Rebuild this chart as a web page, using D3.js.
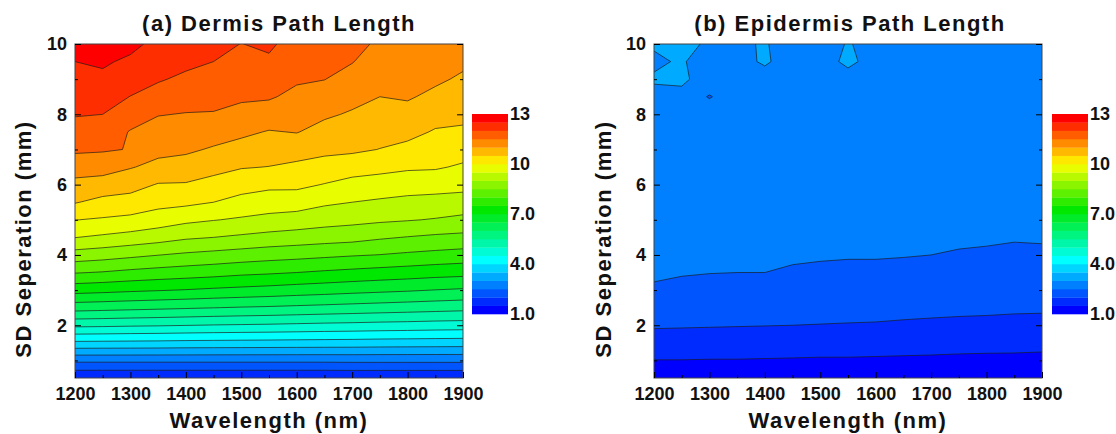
<!DOCTYPE html>
<html>
<head>
<meta charset="utf-8">
<script src="https://cdn.jsdelivr.net/npm/d3@7"></script>
<style>
body{margin:0;background:#fff;}
text{font-family:"Liberation Sans",Arial,sans-serif;font-weight:bold;}
</style>
</head>
<body>
<div id="chart"></div>
<script>
var w=1116, h=434;

//Simulation grid
var wavelengths=[1200,1250,1300,1350,1400,1450,1500,1550,1600,1650,1700,1750,1800,1850,1900];
var separations=[0.5,1,1.5,2,2.5,3,3.5,4,4.5,5,5.5,6,6.5,7,7.5,8,8.5,9,9.5,10];

//Dermis path length, one row per separation (0.5 mm first), one value per wavelength
var dermis=[
 [1.52,1.52,1.52,1.52,1.52,1.52,1.52,1.52,1.52,1.52,1.53,1.53,1.53,1.53,1.53],
 [2.61,2.61,2.61,2.61,2.61,2.61,2.61,2.61,2.61,2.61,2.62,2.62,2.62,2.62,2.62],
 [3.90,3.89,3.88,3.87,3.85,3.84,3.83,3.82,3.81,3.80,3.79,3.77,3.76,3.75,3.74],
 [5.11,5.09,5.06,5.04,5.01,4.98,4.96,4.94,4.91,4.88,4.86,4.83,4.81,4.78,4.76],
 [6.21,6.17,6.13,6.09,6.05,6.01,5.97,5.94,5.90,5.86,5.82,5.78,5.74,5.70,5.66],
 [7.19,7.14,7.08,7.03,6.98,6.92,6.87,6.82,6.76,6.71,6.65,6.60,6.55,6.49,6.44],
 [8.03,7.97,7.88,7.81,7.75,7.69,7.61,7.56,7.50,7.43,7.37,7.31,7.26,7.20,7.16],
 [8.79,8.71,8.61,8.51,8.42,8.35,8.28,8.21,8.16,8.10,8.04,7.99,7.92,7.86,7.80],
 [9.51,9.42,9.32,9.21,9.07,9.00,8.92,8.84,8.78,8.72,8.67,8.56,8.48,8.41,8.37],
 [10.01,9.95,9.88,9.75,9.61,9.52,9.44,9.36,9.29,9.20,9.14,9.08,9.03,8.97,8.88],
 [10.53,10.36,10.31,10.16,10.11,10.00,9.84,9.75,9.73,9.58,9.50,9.43,9.37,9.33,9.30],
 [10.86,10.79,10.68,10.47,10.46,10.34,10.20,10.11,10.11,9.98,9.83,9.79,9.72,9.70,9.65],
 [11.23,11.20,11.03,10.87,10.80,10.65,10.53,10.49,10.40,10.32,10.23,10.14,10.07,10.05,9.94],
 [11.58,11.55,11.48,11.13,11.08,10.95,10.82,10.73,10.71,10.61,10.58,10.49,10.38,10.26,10.19],
 [11.82,11.78,11.47,11.32,11.28,11.21,11.10,10.97,11.02,10.84,10.76,10.66,10.63,10.46,10.43],
 [12.03,12.00,11.73,11.52,11.48,11.47,11.36,11.28,11.20,11.07,10.95,10.83,10.84,10.67,10.61],
 [12.19,12.19,11.99,11.79,11.69,11.65,11.57,11.55,11.38,11.29,11.14,11.00,11.05,10.89,10.77],
 [12.45,12.41,12.21,12.05,11.90,11.83,11.71,11.73,11.56,11.51,11.33,11.13,11.20,11.08,10.93],
 [12.50,12.56,12.42,12.20,12.12,12.00,11.86,11.91,11.66,11.66,11.52,11.27,11.30,11.20,11.09],
 [12.65,12.70,12.62,12.37,12.33,12.15,11.99,12.10,11.75,11.78,11.68,11.40,11.38,11.32,11.25]
];

//Epidermis path length, same layout
var epidermis=[
 [1.19,1.19,1.18,1.18,1.17,1.16,1.15,1.15,1.14,1.13,1.12,1.10,1.09,1.09,1.07],
 [1.49,1.49,1.48,1.48,1.47,1.46,1.45,1.45,1.44,1.43,1.42,1.40,1.39,1.39,1.37],
 [1.79,1.78,1.77,1.76,1.75,1.74,1.72,1.72,1.71,1.69,1.68,1.67,1.66,1.65,1.64],
 [2.05,2.04,2.03,2.02,2.01,2.00,1.99,1.98,1.97,1.95,1.93,1.92,1.90,1.89,1.87],
 [2.24,2.21,2.19,2.18,2.18,2.15,2.14,2.13,2.13,2.11,2.10,2.08,2.08,2.06,2.06],
 [2.43,2.39,2.35,2.34,2.34,2.31,2.29,2.27,2.27,2.25,2.23,2.21,2.20,2.18,2.18],
 [2.58,2.53,2.51,2.50,2.50,2.46,2.43,2.41,2.41,2.38,2.37,2.34,2.33,2.30,2.31],
 [2.66,2.62,2.60,2.59,2.59,2.55,2.54,2.53,2.53,2.52,2.50,2.47,2.45,2.42,2.43],
 [2.72,2.69,2.67,2.66,2.66,2.63,2.62,2.61,2.61,2.60,2.59,2.56,2.55,2.53,2.54],
 [2.77,2.75,2.73,2.72,2.72,2.70,2.69,2.68,2.68,2.67,2.66,2.64,2.63,2.61,2.61],
 [2.81,2.79,2.78,2.77,2.77,2.75,2.74,2.73,2.73,2.72,2.71,2.70,2.69,2.67,2.67],
 [2.84,2.83,2.82,2.81,2.81,2.79,2.78,2.77,2.77,2.76,2.75,2.74,2.73,2.72,2.72],
 [2.87,2.86,2.85,2.84,2.84,2.82,2.81,2.80,2.80,2.79,2.78,2.77,2.77,2.76,2.76],
 [2.89,2.88,2.87,2.86,2.86,2.85,2.84,2.83,2.83,2.82,2.81,2.80,2.80,2.79,2.79],
 [2.91,2.90,2.89,2.88,2.88,2.87,2.86,2.85,2.85,2.84,2.83,2.82,2.82,2.81,2.81],
 [2.93,2.92,2.91,2.90,2.90,2.89,2.88,2.87,2.87,2.86,2.85,2.84,2.84,2.83,2.83],
 [2.95,2.94,2.45,2.92,2.92,2.91,2.90,2.89,2.89,2.88,2.87,2.86,2.86,2.85,2.85],
 [3.02,3.04,2.90,2.93,2.94,2.92,2.91,2.93,2.90,2.89,2.88,2.87,2.87,2.86,2.86],
 [2.97,3.02,2.90,2.95,3.02,2.93,2.92,3.04,2.93,2.91,2.90,2.89,2.89,2.88,2.88],
 [3.02,3.04,2.98,2.96,3.02,2.88,2.93,3.01,2.95,2.93,2.92,2.91,2.90,2.89,2.89]
];

//Contour levels and colour bar labels
var levels=d3.range(1,13,0.5);
var cbarValues=[1,4,7,10,13];
var cbarLabels=["1.0","4.0","7.0","10","13"];
var xMajor=[1200,1300,1400,1500,1600,1700,1800,1900];
var xMinor=[1250,1350,1450,1550,1650,1750,1850];
var yMajor=[2,4,6,8,10];
var yMinor=[1,3,5,7,9];

//Rainbow colour map, one colour per 0.5 band
var color=d3.scaleLinear()
            .domain([1.25,4.25,7.25,10,12.75])
            .range(["#0000ff","#00ffff","#00e800","#ffff00","#ff0000"])
            .clamp(true);

var panels=[
  {data:dermis, left:75, title:"(a) Dermis Path Length", titleX:279, cbarX:472, ylabX:31},
  {data:epidermis, left:654, title:"(b) Epidermis Path Length", titleX:850, cbarX:1052, ylabX:611}
];

var plotTop=44, plotBottom=378, plotW=388;

var svg=d3.select("#chart")
          .append("svg")
          .attr("width",w)
          .attr("height",h);

panels.forEach(function(p,k) {
    var x=d3.scaleLinear().domain([1200,1900]).range([p.left,p.left+plotW]);
    var y=d3.scaleLinear().domain([0.5,10]).range([plotBottom,plotTop]);

    //Contour polygons from the grid
    var nx=wavelengths.length, ny=separations.length;
    var flat=[];
    p.data.forEach(function(row) {row.forEach(function(v) {flat.push(v);});});
    var contours=d3.contours().size([nx,ny]).thresholds(levels)(flat);

    var dw=wavelengths[1]-wavelengths[0], ds=separations[1]-separations[0];
    var proj=d3.geoTransform({point:function(u,v) {
        this.stream.point(x(wavelengths[0]+(u-0.5)*dw), y(separations[0]+(v-0.5)*ds));
    }});
    var path=d3.geoPath(proj);

    svg.append("clipPath")
       .attr("id","clip"+k)
       .append("rect")
       .attr("x",p.left)
       .attr("y",plotTop)
       .attr("width",plotW)
       .attr("height",plotBottom-plotTop);

    var g=svg.append("g").attr("clip-path","url(#clip"+k+")");
    g.selectAll("path.fill")
     .data(contours)
     .enter()
     .append("path")
     .attr("class","fill")
     .attr("d",path)
     .attr("fill",function(d) {return color(d.value+0.25);});
    g.selectAll("path.line")
     .data(contours.slice(1))
     .enter()
     .append("path")
     .attr("class","line")
     .attr("d",path)
     .attr("fill","none")
     .attr("stroke","#1a1a1a")
     .attr("stroke-width",0.8)
     .attr("stroke-opacity",0.85);

    //Frame
    svg.append("rect")
       .attr("x",p.left)
       .attr("y",plotTop)
       .attr("width",plotW)
       .attr("height",plotBottom-plotTop)
       .attr("fill","none")
       .attr("stroke","#444")
       .attr("stroke-width",1);

    //Axes, ticks pointing inward
    var xa=svg.append("g").attr("transform","translate(0,"+plotBottom+")")
              .call(d3.axisBottom(x).tickValues(xMajor).tickSize(-6).tickPadding(9).tickFormat(d3.format("d")));
    var xm=svg.append("g").attr("transform","translate(0,"+plotBottom+")")
              .call(d3.axisBottom(x).tickValues(xMinor).tickSize(-3).tickFormat(""));
    var ya=svg.append("g").attr("transform","translate("+p.left+",0)")
              .call(d3.axisLeft(y).tickValues(yMajor).tickSize(-6).tickPadding(8).tickFormat(d3.format("d")));
    var ym=svg.append("g").attr("transform","translate("+p.left+",0)")
              .call(d3.axisLeft(y).tickValues(yMinor).tickSize(-3).tickFormat(""));
    var ra=svg.append("g").attr("transform","translate("+(p.left+plotW)+",0)")
              .call(d3.axisRight(y).tickValues(yMajor).tickSize(-6).tickFormat(""));
    var rm=svg.append("g").attr("transform","translate("+(p.left+plotW)+",0)")
              .call(d3.axisRight(y).tickValues(yMinor).tickSize(-3).tickFormat(""));
    [xa,xm,ya,ym,ra,rm].forEach(function(a) {
        a.select(".domain").remove();
        a.attr("font-size",18).attr("font-family",null);
        a.selectAll("text").attr("fill","#111");
    });

    //Titles
    svg.append("text")
       .attr("x",p.titleX)
       .attr("y",31)
       .attr("text-anchor","middle")
       .style("font-size","22px")
       .style("letter-spacing","1.5px")
       .attr("fill","#111")
       .text(p.title);
    svg.append("text")
       .attr("x",p.left+plotW/2)
       .attr("y",428)
       .attr("text-anchor","middle")
       .style("font-size","22px")
       .style("letter-spacing","1.5px")
       .attr("fill","#111")
       .text("Wavelength (nm)");
    svg.append("text")
       .attr("transform","translate("+p.ylabX+",239) rotate(-90)")
       .attr("text-anchor","middle")
       .style("font-size","22px")
       .style("letter-spacing","1.5px")
       .attr("fill","#111")
       .text("SD Seperation (mm)");

    //Colour bar
    var c=d3.scaleLinear().domain([1,13]).range([314,114]);
    svg.append("g")
       .selectAll("rect")
       .data(levels)
       .enter()
       .append("rect")
       .attr("x",p.cbarX)
       .attr("y",function(d) {return c(d+0.5);})
       .attr("width",36)
       .attr("height",function(d) {return c(d)-c(d+0.5)+0.3;})
       .attr("fill",function(d) {return color(d+0.25);});
    svg.append("g")
       .selectAll("text")
       .data(cbarValues)
       .enter()
       .append("text")
       .attr("x",p.cbarX+38)
       .attr("y",function(d) {return c(d);})
       .attr("dy","0.36em")
       .style("font-size","18px")
       .attr("fill","#111")
       .text(function(d,i) {return cbarLabels[i];});
});
</script>
</body>
</html>
